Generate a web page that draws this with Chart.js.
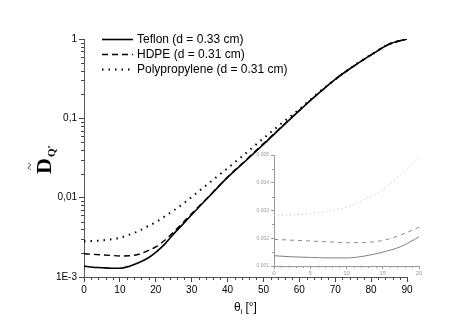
<!DOCTYPE html>
<html>
<head>
<meta charset="utf-8">
<script src="https://cdn.jsdelivr.net/npm/chart.js@4"></script>
<style>
  html, body { margin: 0; padding: 0; background: #fff; }
  #wrap { position: relative; width: 471px; height: 332px; }
  #mainChart { position: absolute; left: 0; top: 0; }
  #insetChart { position: absolute; left: 236px; top: 148px; }
</style>
</head>
<body>
<div id="wrap">
  <canvas id="mainChart" width="471" height="332"></canvas>
  <canvas id="insetChart" width="190" height="130"></canvas>
</div>
<script>
// Data
const angles = [0, 2.5, 5, 7.5, 10, 12.5, 15, 17.5, 20, 22.5, 25, 27.5, 30, 35, 40, 45, 50, 55, 60, 65, 70, 75, 80, 85, 90];
const teflon = [0.00137, 0.00133, 0.00131, 0.00129, 0.00129, 0.00136, 0.0015, 0.0017, 0.00205, 0.0026, 0.0035, 0.0046, 0.0061, 0.0105, 0.018, 0.029, 0.047, 0.077, 0.125, 0.2, 0.31, 0.45, 0.63, 0.86, 1.0];
const hdpe = [0.00196, 0.00193, 0.0019, 0.00187, 0.00184, 0.00185, 0.00192, 0.00212, 0.0024, 0.0029, 0.0037, 0.0048, 0.0063, 0.0106, 0.0182, 0.0295, 0.048, 0.078, 0.126, 0.2, 0.31, 0.45, 0.63, 0.86, 1.0];
const polypropylene = [0.00283, 0.00284, 0.0029, 0.00298, 0.00312, 0.0034, 0.00375, 0.0043, 0.0049, 0.0058, 0.0069, 0.0083, 0.0102, 0.0155, 0.0235, 0.036, 0.056, 0.086, 0.13, 0.205, 0.31, 0.455, 0.635, 0.86, 1.0];

const seriesLabels = ["Teflon (d = 0.33 cm)", "HDPE (d = 0.31 cm)", "Polypropylene (d = 0.31 cm)"];
const yTickValues = [0.001, 0.01, 0.1, 1];
const yTickLabels = ["1E-3", "0,01", "0,1", "1"];
const insetMaxAngle = 20;

const font = "'Liberation Sans', Arial, sans-serif";

function toPoints(xs, ys, maxX) {
  const pts = [];
  xs.forEach((x, i) => {
    if (maxX === undefined || x <= maxX) pts.push({ x: x, y: ys[i] });
  });
  return pts;
}

// minor ticks drawn outside the axes
const minorTicks = {
  id: "minorTicks",
  afterDraw(chart, args, opts) {
    const ctx = chart.ctx;
    const area = chart.chartArea;
    const xs = chart.scales.x, ys = chart.scales.y;
    ctx.save();
    ctx.strokeStyle = opts.color;
    ctx.lineWidth = 1;
    ctx.beginPath();
    opts.xMinor.forEach(v => {
      const px = Math.round(xs.getPixelForValue(v)) + 0.5;
      ctx.moveTo(px, area.bottom);
      ctx.lineTo(px, area.bottom + opts.len);
    });
    opts.yMinor.forEach(v => {
      const py = Math.round(ys.getPixelForValue(v)) + 0.5;
      ctx.moveTo(area.left, py);
      ctx.lineTo(area.left - opts.len, py);
    });
    ctx.stroke();
    ctx.restore();
  }
};

// legend with line samples, top-left of the plot
const lineLegend = {
  id: "lineLegend",
  afterDraw(chart, args, opts) {
    const ctx = chart.ctx;
    ctx.save();
    ctx.font = "12px " + font;
    ctx.fillStyle = "#000";
    ctx.textBaseline = "middle";
    chart.data.datasets.forEach((ds, i) => {
      const y = opts.top + i * opts.rowHeight + 0.5;
      ctx.strokeStyle = ds.borderColor;
      ctx.lineWidth = ds.borderWidth;
      ctx.setLineDash(ds.borderDash || []);
      ctx.beginPath();
      ctx.moveTo(opts.left, y);
      ctx.lineTo(opts.left + opts.sample, y);
      ctx.stroke();
      ctx.setLineDash([]);
      ctx.fillText(ds.label, opts.left + opts.sample + 4, y);
    });
    ctx.restore();
  }
};

// axis titles with sub/superscripts
const axisTitles = {
  id: "axisTitles",
  afterDraw(chart) {
    const ctx = chart.ctx;
    ctx.save();
    ctx.fillStyle = "#000";
    // y title: D~ with subscript Q'
    ctx.translate(51, 174);
    ctx.rotate(-Math.PI / 2);
    ctx.textBaseline = "alphabetic";
    ctx.font = "bold 22px 'Liberation Serif', serif";
    ctx.fillText("D", 0, 0);
    const dw = ctx.measureText("D").width;
    ctx.font = "13px 'Liberation Serif', serif";
    ctx.fillText("~", dw / 2 - 4, -17);
    ctx.font = "bold 11px 'Liberation Serif', serif";
    ctx.fillText("Q'", dw + 1, 4);
    ctx.restore();

    // x title: theta_i [deg]
    ctx.save();
    ctx.fillStyle = "#000";
    ctx.textBaseline = "alphabetic";
    ctx.font = "12px " + font;
    let x = 234;
    const y = 311;
    ctx.fillText("\u03b8", x, y);
    x += ctx.measureText("\u03b8").width;
    ctx.font = "8px " + font;
    ctx.fillText("i", x, y + 3);
    x += ctx.measureText("i").width + 3;
    ctx.font = "12px " + font;
    ctx.fillText("[\u00b0]", x, y);
    ctx.restore();
  }
};

const xMinorMain = [];
for (let v = 2; v < 90; v += 2) if (v % 10 !== 0) xMinorMain.push(v);
const yMinorMain = [];
[0.001, 0.01, 0.1].forEach(d => { for (let k = 2; k <= 9; k++) yMinorMain.push(d * k); });

const mainChart = new Chart(document.getElementById("mainChart"), {
  type: "line",
  data: {
    datasets: [
      {
        label: seriesLabels[0],
        data: toPoints(angles, teflon),
        borderColor: "#000",
        borderWidth: 1.6,
      },
      {
        label: seriesLabels[1],
        data: toPoints(angles, hdpe),
        borderColor: "#000",
        borderWidth: 1.4,
        borderDash: [6, 4],
      },
      {
        label: seriesLabels[2],
        data: toPoints(angles, polypropylene),
        borderColor: "#000",
        borderWidth: 2,
        borderDash: [1.5, 5],
      },
    ],
  },
  options: {
    responsive: false,
    animation: false,
    layout: { padding: { left: 0, top: 39, right: 64, bottom: 0 } },
    elements: {
      point: { radius: 0 },
      line: { cubicInterpolationMode: "monotone", fill: false },
    },
    plugins: {
      legend: { display: false },
      tooltip: { enabled: false },
      lineLegend: { left: 102, top: 39, rowHeight: 15, sample: 31 },
      minorTicks: { xMinor: xMinorMain, yMinor: yMinorMain, len: 3, color: "#444" },
    },
    scales: {
      x: {
        type: "linear",
        min: 0,
        max: 90,
        ticks: { stepSize: 10, color: "#000", padding: 2, font: { family: font, size: 10 } },
        grid: { drawOnChartArea: false, tickLength: 5, color: "#444" },
        border: { color: "#555" },
        afterFit: s => { s.height = 55; },
      },
      y: {
        type: "logarithmic",
        min: 0.001,
        max: 1,
        afterBuildTicks: s => { s.ticks = yTickValues.map(v => ({ value: v })); },
        ticks: {
          color: "#000",
          padding: 2,
          font: { family: font, size: 10 },
          callback: (v, i) => yTickLabels[i],
        },
        grid: { drawOnChartArea: false, tickLength: 5, color: "#444" },
        border: { color: "#555" },
        afterFit: s => { s.width = 84; },
      },
    },
  },
  plugins: [lineLegend, minorTicks, axisTitles],
});

// Inset: zoom on 0-20 degrees, linear scale
const xMinorInset = [];
for (let v = 1; v < insetMaxAngle; v += 1) if (v % 5 !== 0) xMinorInset.push(v);
const yMinorInset = [0.0015, 0.0025, 0.0035, 0.0045];

const insetChart = new Chart(document.getElementById("insetChart"), {
  type: "line",
  data: {
    datasets: [
      {
        data: toPoints(angles, teflon, insetMaxAngle),
        borderColor: "#808080",
        borderWidth: 1,
      },
      {
        data: toPoints(angles, hdpe, insetMaxAngle),
        borderColor: "#8a8a8a",
        borderWidth: 1,
        borderDash: [4, 4],
      },
      {
        data: toPoints(angles, polypropylene, insetMaxAngle),
        borderColor: "#b8b8b8",
        borderWidth: 1,
        borderDash: [1, 3],
      },
    ],
  },
  options: {
    responsive: false,
    animation: false,
    layout: { padding: { left: 0, top: 7, right: 7, bottom: 0 } },
    elements: {
      point: { radius: 0 },
      line: { cubicInterpolationMode: "monotone", fill: false },
    },
    plugins: {
      legend: { display: false },
      tooltip: { enabled: false },
      minorTicks: { xMinor: xMinorInset, yMinor: yMinorInset, len: 2, color: "#999" },
    },
    scales: {
      x: {
        type: "linear",
        min: 0,
        max: insetMaxAngle,
        ticks: { stepSize: 5, color: "#999", padding: 1, font: { family: font, size: 6 } },
        grid: { drawOnChartArea: false, tickLength: 3, color: "#999" },
        border: { color: "#999" },
        afterFit: s => { s.height = 12; },
      },
      y: {
        type: "linear",
        min: 0.001,
        max: 0.005,
        ticks: {
          stepSize: 0.001,
          color: "#999",
          padding: 2,
          font: { family: font, size: 5 },
          callback: v => v.toFixed(3),
        },
        grid: { drawOnChartArea: false, tickLength: 3, color: "#999" },
        border: { color: "#999" },
        afterFit: s => { s.width = 38; },
      },
    },
  },
  plugins: [minorTicks],
});
</script>
</body>
</html>
